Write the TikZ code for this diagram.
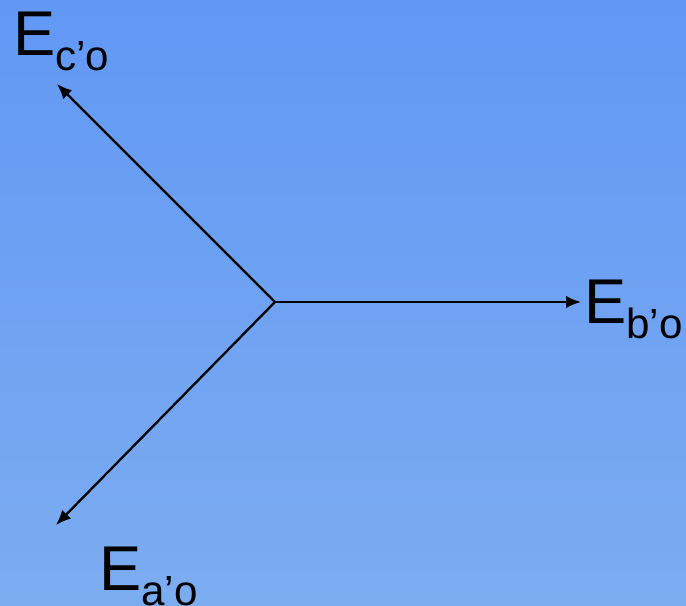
\documentclass[tikz,border=0pt]{standalone}
\usepackage{fontspec}
\setmainfont{Liberation Sans}
\usetikzlibrary{arrows.meta}
\newcommand{\phlabel}[1]{E\raisebox{-9pt}{\fontsize{24}{24}\selectfont #1}}
\begin{document}
\begin{tikzpicture}[x=0.02cm,y=-0.02cm,
			vec/.style={line width=1.3pt, -{Latex[length=3mm,width=2.5mm]}},
			lab/.style={anchor=base west, inner sep=0pt, font=\fontsize{36}{36}\selectfont}]
			%---------------- NỀN ----------------
			\shade[top color={rgb,255:red,97;green,152;blue,244}, bottom color={rgb,255:red,124;green,172;blue,240}] (0,0) rectangle (686,605);
			\useasboundingbox (0,0) rectangle (686,605);
			%---------------- VECTƠ ----------------
			\coordinate (O) at (275,302);
			\coordinate (Ec) at (57,84);
			\coordinate (Eb) at (581,302);
			\coordinate (Ea) at (56,525);
			\draw[vec] (O) -- (Ec);
			\draw[vec] (O) -- (Eb);
			\draw[vec] (O) -- (Ea);
			%---------------- NHÃN ----------------
			\node[lab] (Lc) at (13,55) {\phlabel{c’o}};
			\node[lab] (Lb) at (584,323) {\phlabel{b’o}};
			\node[lab] (La) at (99,590) {\phlabel{a’o}};
		\end{tikzpicture}
\end{document}
